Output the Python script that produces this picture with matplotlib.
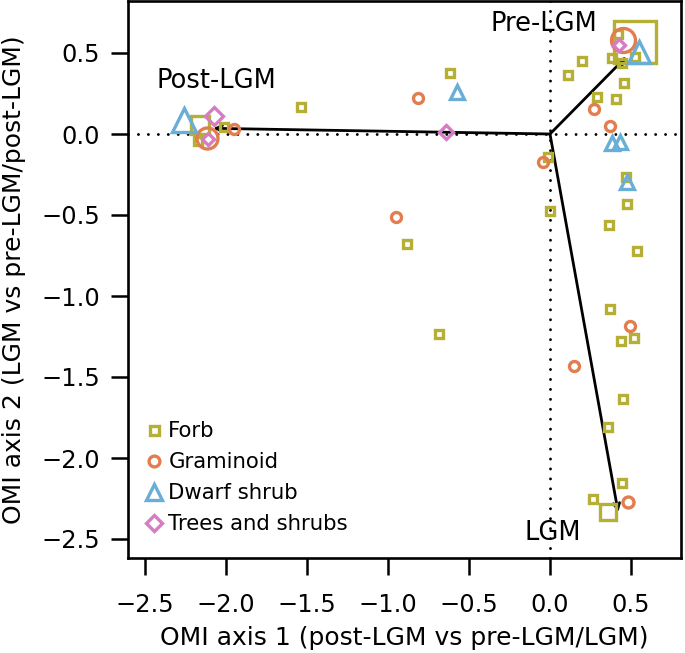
import matplotlib
matplotlib.use("Agg")
import matplotlib.pyplot as plt

plt.rcParams['font.family'] = ['DejaVu Sans']

# ---- data ----
forb_x = [0.526, 0.422, 0.199, 0.113, 0.381, 0.442, 0.525, 0.458, 0.291, 0.406,
          -0.010, 0.472, 0.474, 0.000, 0.365, 0.534, 0.369, 0.441, 0.517, 0.448,
          0.355, 0.445, 0.265, 0.360, -0.620, -1.535, -0.883, -0.688, -2.160, -2.171, -2.010]
forb_y = [0.567, 0.615, 0.451, 0.365, 0.471, 0.436, 0.477, 0.313, 0.231, 0.216,
          -0.144, -0.264, -0.430, -0.474, -0.563, -0.722, -1.082, -1.278, -1.260, -1.635,
          -1.810, -2.154, -2.252, -2.331, 0.375, 0.169, -0.682, -1.237, 0.056, -0.043, 0.041]
forb_w = [5.15, 1, 1, 1, 1, 1, 1, 1, 1, 1,
          1, 1, 1, 1, 1, 1, 1, 1, 1, 1,
          1, 1, 1, 2.0, 1, 1, 1, 1, 2.1, 1, 1]

gram_x = [0.453, 0.273, 0.369, -0.041, -0.815, -0.948, 0.493, 0.148, 0.480, -2.119, -1.951]
gram_y = [0.580, 0.155, 0.051, -0.175, 0.221, -0.515, -1.187, -1.435, -2.272, -0.027, 0.029]
gram_w = [2.4, 1, 1, 1, 1, 1, 1, 1, 1.1, 2.1, 1]

dwarf_x = [0.551, -0.571, 0.380, 0.431, 0.478, -2.259]
dwarf_y = [0.508, 0.262, -0.054, -0.048, -0.295, 0.086]
dwarf_w = [1.45, 1, 1, 1, 1, 1.6]

tree_x = [0.428, -0.642, -2.072, -2.109]
tree_y = [0.549, 0.014, 0.113, -0.033]
tree_w = [0.85, 1.0, 1.2, 0.8]

group_names = ["Forb", "Graminoid", "Dwarf shrub", "Trees and shrubs"]

arrow_labels = ["Pre-LGM", "Post-LGM", "LGM"]
arrow_x = [0.472, -2.080, 0.421]
arrow_y = [0.478, 0.035, -2.336]
label_x = [-0.04, -2.06, 0.015]
label_y = [0.68, 0.33, -2.463]

xticks = [-2.5, -2.0, -1.5, -1.0, -0.5, 0.0, 0.5]
yticks = [0.5, 0.0, -0.5, -1.0, -1.5, -2.0, -2.5]

# ---- styles ----
col_forb = "#B5B035"
col_gram = "#E27D50"
col_dwarf = "#68AED6"
col_tree = "#D67BC4"

W, H = 685, 653
fig = plt.figure(figsize=(W / 100, H / 100), dpi=100)
L, R, T, B = 128, 681, 1, 558
ax = fig.add_axes([L / W, 1 - B / H, (R - L) / W, (B - T) / H])

px_per_unit = 162.0
ax.set_xlim((L - 550) / px_per_unit, (R - 550) / px_per_unit)
ax.set_ylim(-(B - 134) / px_per_unit, (134 - T) / px_per_unit)

dot = (0, (0.01, 3.4))
for fn in (ax.axvline, ax.axhline):
    ln = fn(0, color="black", lw=2.1, linestyle=dot, zorder=1)
    ln.set_dash_capstyle("round")

for ax_, ay_ in zip(arrow_x, arrow_y):
    ax.annotate("", xy=(ax_, ay_), xytext=(0, 0),
                arrowprops=dict(arrowstyle="->,head_length=0.45,head_width=0.22",
                                color="black", lw=2.0, shrinkA=0, shrinkB=0),
                zorder=2)

mew = 2.4
specs = [
    (forb_x, forb_y, forb_w, "s", col_forb, 6.0),
    (gram_x, gram_y, gram_w, "o", col_gram, 7.2),
    (dwarf_x, dwarf_y, dwarf_w, "^", col_dwarf, 10.5),
    (tree_x, tree_y, tree_w, "D", col_tree, 7.5),
]
handles = []
for (xs, ys, ws, mk, c, base), name in zip(specs, group_names):
    for x, y, w in zip(xs, ys, ws):
        ax.plot([x], [y], marker=mk, ms=base * w, mfc="none", mec=c, mew=mew,
                linestyle="none", zorder=3)
    h, = ax.plot([], [], marker=mk, ms=base * 1.08, mfc="none", mec=c, mew=mew,
                 linestyle="none", label=name)
    handles.append(h)

for t, lx, ly in zip(arrow_labels, label_x, label_y):
    ax.text(lx, ly, t, fontsize=18.5, ha="center", va="center", zorder=4)

leg_fs = 15.3
leg = ax.legend(handles=handles, loc="upper left",
                bbox_to_anchor=(145 / W, 1 - 421 / H), bbox_transform=fig.transFigure,
                frameon=False, fontsize=leg_fs, handlelength=0.8, handletextpad=0.3,
                labelspacing=0.52, borderaxespad=0, borderpad=0)

ax.set_xticks(xticks)
ax.set_yticks(yticks)
ax.set_xticklabels([f"{v:.1f}".replace("-", "\u2212") for v in xticks])
ax.set_yticklabels([f"{v:.1f}".replace("-", "\u2212") for v in yticks])
ax.tick_params(axis="both", direction="out", length=12, width=1.8, labelsize=17.4)
ax.tick_params(axis="x", pad=13)
ax.tick_params(axis="y", pad=8)
for s in ax.spines.values():
    s.set_linewidth(1.9)

ax.set_xlabel("OMI axis 1 (post-LGM vs pre-LGM/LGM)", fontsize=18.0)
ax.set_ylabel("OMI axis 2 (LGM vs pre-LGM/post-LGM)", fontsize=18.0)
ax.xaxis.set_label_coords(0.5, -(626 - B) / (B - T))
ax.yaxis.set_label_coords((26 - L) / (R - L), 0.5)

fig.savefig("out.png", dpi=100)
